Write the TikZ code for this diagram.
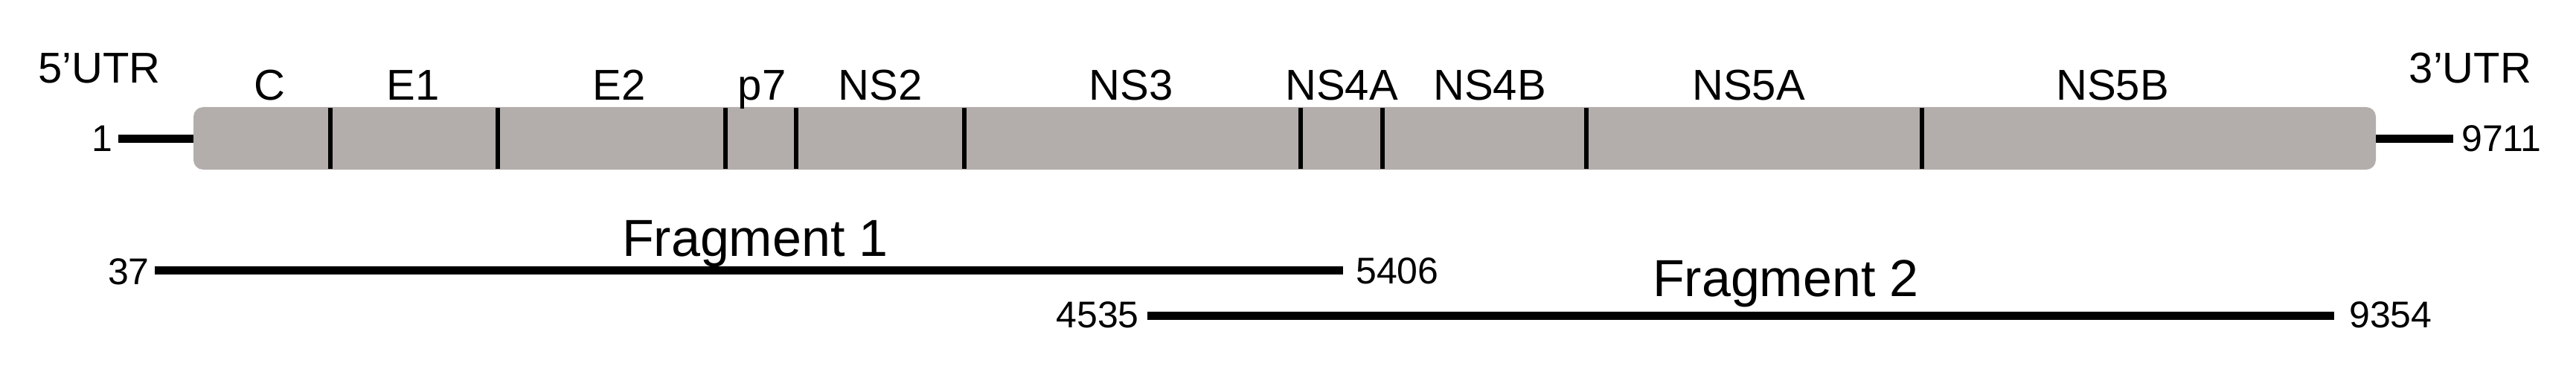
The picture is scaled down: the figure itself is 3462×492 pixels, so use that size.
\documentclass[tikz,border=0pt]{standalone}
\usepackage{fontspec}
\setmainfont{Liberation Sans}
\definecolor{bargray}{RGB}{179,174,172}
\begin{document}
\begin{tikzpicture}[x=1pt,y=-1pt,
  seglabel/.style={inner sep=0pt,anchor=base,font=\fontsize{58}{60}\selectfont},
  numlabel/.style={inner sep=0pt,font=\fontsize{50}{52}\selectfont},
  fraglabel/.style={inner sep=0pt,anchor=base,font=\fontsize{70}{72}\selectfont},
  divider/.style={line width=6pt,black},
  stub/.style={line width=11pt,black},
  fragline/.style={line width=11pt,black}]
\useasboundingbox (0,0) rectangle (3462,492);
% genome bar
\node (bar) [rectangle,rounded corners=13pt,fill=bargray,inner sep=0pt,
  minimum width=2933pt,minimum height=84pt] at (1726.5,186) {};
% dividers
\foreach \xx in {444,669,975,1070,1296,1748,1858,2132,2583}{
  \draw[divider] (\xx,145) -- (\xx,227);
}
% segment labels
\node[seglabel] (lC) at (362,135) {C};
\node[seglabel] (lE1) at (555,135) {E1};
\node[seglabel] (lE2) at (832,135) {E2};
\node[seglabel] (lp7) at (1024,135) {p7};
\node[seglabel] (lNS2) at (1183,135) {NS2};
\node[seglabel] (lNS3) at (1520,135) {NS3};
\node[seglabel] (lNS4A) at (1803,135) {NS4A};
\node[seglabel] (lNS4B) at (2002,135) {NS4B};
\node[seglabel] (lNS5A) at (2350,135) {NS5A};
\node[seglabel] (lNS5B) at (2839,135) {NS5B};
\node[seglabel] (utr5) at (133.5,112) {5’UTR};
\node[seglabel] (utr3) at (3320,112) {3’UTR};
% end numbers
\node[numlabel,anchor=base east] (n1) at (152,203) {1};
\node[numlabel,anchor=base west] (n9711) at (3308,204) {9711};
\coordinate (s1) at (159,186);
\coordinate (s2) at (3297,186);
\draw[stub] (s1) -- (bar.west |- s1);
\draw[stub] (bar.east |- s2) -- (s2);
% fragment 1
\node[numlabel,anchor=base east] (n37) at (201,382) {37};
\node[numlabel,anchor=base west] (n5406) at (1822,381) {5406};
\coordinate (f1s) at (208,363);
\coordinate (f1e) at (1805,363);
\draw[fragline] (f1s) -- (f1e);
\node[fraglabel] (frag1) at (1015,344) {Fragment 1};
% fragment 2
\node[numlabel,anchor=base east] (n4535) at (1531,440) {4535};
\node[numlabel,anchor=base west] (n9354) at (3157,440) {9354};
\coordinate (f2s) at (1542,424);
\coordinate (f2e) at (3137,424);
\draw[fragline] (f2s) -- (f2e);
\node[fraglabel] (frag2) at (2400,398) {Fragment 2};
\end{tikzpicture}
\end{document}
